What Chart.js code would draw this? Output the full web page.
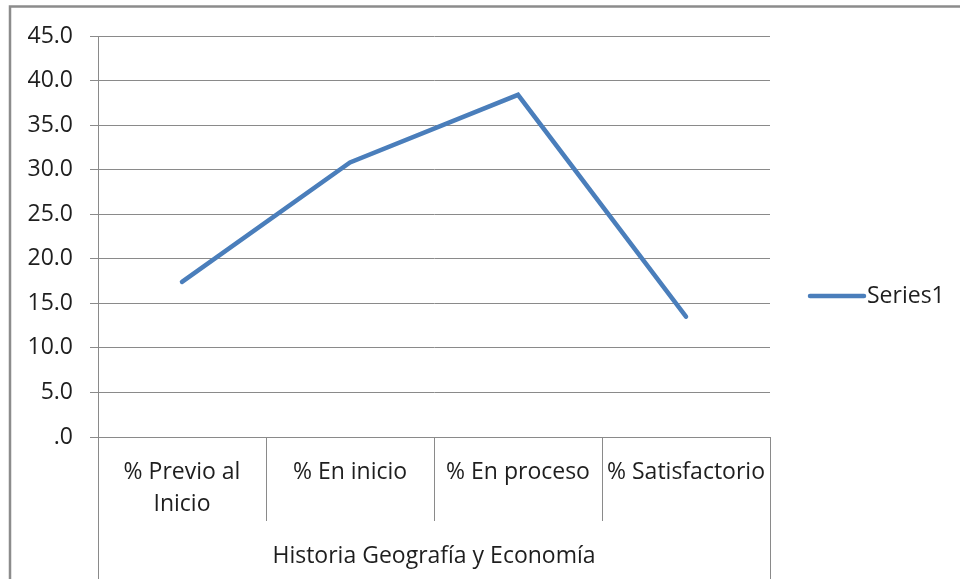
<!DOCTYPE html>
<html>
<head>
<meta charset="utf-8">
<script src="https://cdn.jsdelivr.net/npm/chart.js@4.4.1/dist/chart.umd.min.js"></script>
<style>
  html, body { margin: 0; padding: 0; background: #ffffff; }
  #wrap { width: 960px; height: 579px; position: relative; }
</style>
</head>
<body>
<div id="wrap"><canvas id="c" width="960" height="579"></canvas></div>
<script>
const categories = [["% Previo al", "Inicio"], "% En inicio", "% En proceso", "% Satisfactorio"];
const groupLabel = "Historia Geografía y Economía";
const seriesName = "Series1";
const seriesValues = [17.4, 30.8, 38.4, 13.5];
const yTicks = [0, 5, 10, 15, 20, 25, 30, 35, 40, 45];

const FONT = "'Open Sans', 'Noto Sans', sans-serif";
const FS = 23;
const GRID = '#8a8a8a';
const TEXT = '#1e1e1e';
const LINE = '#4A7EBB';

const decor = {
  id: 'decor',
  beforeDraw(chart) {
    const ctx = chart.ctx;
    ctx.save();
    ctx.strokeStyle = '#8c8c8c';
    ctx.lineWidth = 2.5;
    ctx.beginPath();
    ctx.moveTo(10, 579);
    ctx.lineTo(10, 6.5);
    ctx.lineTo(960, 6.5);
    ctx.stroke();
    ctx.restore();
  },
  afterDraw(chart) {
    const ctx = chart.ctx;
    const x = chart.scales.x;
    const area = chart.chartArea;
    const n = chart.data.labels.length;
    ctx.save();
    ctx.strokeStyle = GRID;
    ctx.lineWidth = 1;
    for (let i = 0; i <= n; i++) {
      let px;
      if (i === 0) px = area.left;
      else if (i === n) px = area.right;
      else px = (x.getPixelForValue(i - 1) + x.getPixelForValue(i)) / 2;
      px = Math.round(px) + 0.5;
      const bottom = (i === 0 || i === n) ? chart.height : area.bottom + 84;
      ctx.beginPath();
      ctx.moveTo(px, area.bottom);
      ctx.lineTo(px, bottom);
      ctx.stroke();
    }
    // legend
    const ds = chart.data.datasets[0];
    const ly = 296;
    ctx.strokeStyle = ds.borderColor;
    ctx.lineWidth = 4.5;
    ctx.lineCap = 'round';
    ctx.beginPath();
    ctx.moveTo(810, ly);
    ctx.lineTo(864, ly);
    ctx.stroke();
    ctx.fillStyle = TEXT;
    ctx.font = FS + "px " + FONT;
    ctx.textBaseline = 'middle';
    ctx.textAlign = 'left';
    ctx.fillText(ds.label, 867, ly);
    ctx.restore();
  }
};

new Chart(document.getElementById('c'), {
  type: 'line',
  data: {
    labels: categories,
    datasets: [{
      label: seriesName,
      data: seriesValues,
      borderColor: LINE,
      backgroundColor: LINE,
      borderWidth: 4.5,
      pointRadius: 0,
      pointHoverRadius: 0,
      tension: 0,
      borderCapStyle: 'round',
      borderJoinStyle: 'miter'
    }]
  },
  options: {
    responsive: false,
    animation: false,
    devicePixelRatio: 1,
    layout: { padding: { left: 0, right: 190, top: 36, bottom: 0 } },
    plugins: { legend: { display: false }, tooltip: { enabled: false } },
    scales: {
      x: {
        type: 'category',
        offset: true,
        grid: { display: false, drawTicks: false },
        border: { display: true, color: GRID, width: 1 },
        ticks: {
          color: TEXT,
          font: { family: FONT, size: FS, lineHeight: 31.5 / FS },
          padding: 20,
          maxRotation: 0,
          minRotation: 0,
          autoSkip: false
        },
        title: {
          display: true,
          text: groupLabel,
          color: TEXT,
          font: { family: FONT, size: FS, lineHeight: 1.2 },
          padding: { top: 0, bottom: 9 }
        },
        afterFit(scale) { scale.height = 142; }
      },
      y: {
        min: 0,
        max: 45,
        afterBuildTicks(scale) { scale.ticks = yTicks.map(v => ({ value: v })); },
        grid: { color: GRID, lineWidth: 1, tickLength: 8, drawTicks: true },
        border: { display: true, color: GRID, width: 1 },
        ticks: {
          color: TEXT,
          font: { family: FONT, size: FS },
          padding: 17,
          callback: (v) => v === 0 ? '.0' : Number(v).toFixed(1)
        },
        afterFit(scale) { scale.width = 98; }
      }
    }
  },
  plugins: [decor]
});
</script>
</body>
</html>
